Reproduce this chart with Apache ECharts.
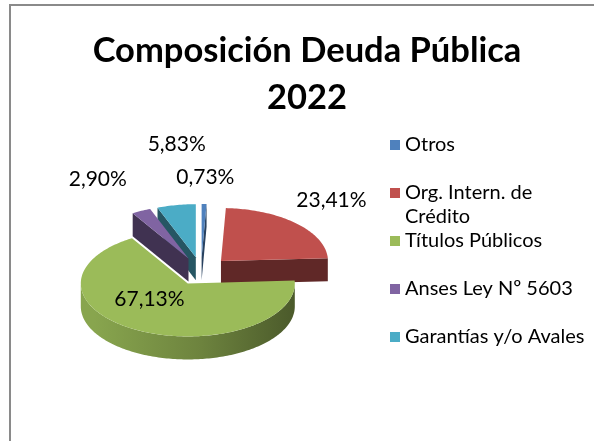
<!DOCTYPE html>
<html>
<head>
<meta charset="utf-8">
<script src="https://cdn.jsdelivr.net/npm/echarts@6/dist/echarts.min.js"></script>
<style>
html, body { margin: 0; padding: 0; background: #fff; }
#main { width: 594px; height: 441px; }
</style>
</head>
<body>
<div id="main"></div>
<script>
var categories = ['Otros', 'Org. Intern. de Crédito', 'Títulos Públicos', 'Anses Ley Nº 5603', 'Garantías y/o Avales'];
var shares = [0.73, 23.41, 67.13, 2.90, 5.83];
var colors = ['#4F81BD', '#C0504D', '#9BBB59', '#8064A2', '#4BACC6'];

// where each percentage sits: [radius factor, angle shift in degrees]
var labelPlace = [[1.51, 0], [1.55, -3], [0.47, 22], [1.71, -3.5], [2.14, 5.7]];

var chart = echarts.init(document.getElementById('main'));

var total = shares.reduce(function (a, b) { return a + b; }, 0);
// pie layout (3d look, tilted)
var CX = 201, CY = 271, RX = 107, RY = 53, DEPTH = 23, EXPLODE = 0.265;

function shade(col, k) {
    var c = echarts.color.parse(col);
    return 'rgb(' + Math.round(c[0] * k) + ',' + Math.round(c[1] * k) + ',' + Math.round(c[2] * k) + ')';
}

function fmt(v) {
    return v.toFixed(2).replace('.', ',') + '%';
}

function renderSlice(params, api) {
    var v = api.value(0), start = api.value(1);
    var idx = params.seriesIndex;
    var a0 = start / total * Math.PI * 2;
    var a1 = (start + v) / total * Math.PI * 2;
    var mid = (a0 + a1) / 2;
    var ox = CX + EXPLODE * RX * Math.sin(mid);
    var oy = CY - EXPLODE * RY * Math.cos(mid);

    function rim(t, dy) {
        return [ox + RX * Math.sin(t), oy - RY * Math.cos(t) + (dy || 0)];
    }
    function arc(t0, t1, dy) {
        var pts = [];
        var n = Math.max(2, Math.ceil((t1 - t0) / 0.02));
        for (var i = 0; i <= n; i++) {
            pts.push(rim(t0 + (t1 - t0) * i / n, dy));
        }
        return pts;
    }

    var base = api.visual('color');
    var z = Math.round((1 - Math.cos(mid)) * 20) * 10;
    var children = [];

    if (Math.sin(a0) < -1e-6) {
        children.push({
            type: 'polygon', z2: z,
            shape: { points: [[ox, oy], rim(a0), rim(a0, DEPTH), [ox, oy + DEPTH]] },
            style: { fill: shade(base, 0.5) }
        });
    }
    if (Math.sin(a1) > 1e-6) {
        children.push({
            type: 'polygon', z2: z,
            shape: { points: [[ox, oy], rim(a1), rim(a1, DEPTH), [ox, oy + DEPTH]] },
            style: { fill: shade(base, 0.5) }
        });
    }
    var w0 = Math.max(a0, Math.PI / 2), w1 = Math.min(a1, Math.PI * 1.5);
    if (w1 > w0) {
        var top = arc(w0, w1, 0), bot = arc(w0, w1, DEPTH).reverse();
        children.push({
            type: 'polygon', z2: z + 1,
            shape: { points: top.concat(bot) },
            style: {
                fill: new echarts.graphic.LinearGradient(CX - RX, 0, CX + RX, 0, [
                    { offset: 0, color: shade(base, 0.88) },
                    { offset: 0.5, color: shade(base, 0.7) },
                    { offset: 1, color: shade(base, 0.45) }
                ], true)
            }
        });
    }
    children.push({
        type: 'polygon', z2: z + 2,
        shape: { points: [[ox, oy]].concat(arc(a0, a1, 0)) },
        style: { fill: base }
    });

    var lp = labelPlace[idx];
    var la = mid + lp[1] * Math.PI / 180;
    children.push({
        type: 'text', z2: 1000,
        x: ox + lp[0] * RX * Math.sin(la),
        y: oy - lp[0] * RY * Math.cos(la),
        style: {
            text: fmt(v),
            fill: '#000',
            font: '21px Lato',
            align: 'center',
            verticalAlign: 'middle'
        }
    });

    return { type: 'group', children: children };
}

var series = [];
var cum = 0;
for (var i = 0; i < categories.length; i++) {
    series.push({
        type: 'custom',
        name: categories[i],
        coordinateSystem: 'none',
        renderItem: renderSlice,
        data: [[shares[i], cum]]
    });
    cum += shares[i];
}

function legendText(name) {
    var l1 = name, l2 = ' ';
    if (name.length > 20) {
        var cut = name.lastIndexOf(' ', 16);
        l1 = name.slice(0, cut);
        l2 = name.slice(cut + 1);
    }
    return '{t| }\n{t|' + l1 + '}\n{t|' + l2 + '}';
}

var option = {
    backgroundColor: '#fff',
    color: colors,
    animation: false,
    title: {
        text: 'Composición Deuda Pública\n2022',
        left: 307,
        top: 27,
        padding: 0,
        textAlign: 'center',
        textStyle: {
            fontFamily: 'Lato',
            fontWeight: 'bold',
            fontSize: 34.5,
            lineHeight: 47,
            color: '#000'
        }
    },
    legend: {
        orient: 'vertical',
        left: 390,
        top: 109,
        padding: 0,
        itemWidth: 10,
        itemHeight: 10,
        itemGap: -24,
        icon: 'rect',
        selectedMode: false,
        formatter: legendText,
        textStyle: {
            color: '#000',
            fontFamily: 'Lato',
            fontSize: 20,
            lineHeight: 24,
            rich: {
                t: { lineHeight: 24, fontSize: 20, fontFamily: 'Lato', color: '#000' }
            }
        }
    },
    graphic: [
        { type: 'line', shape: { x1: 9, y1: 5, x2: 594, y2: 5 }, style: { stroke: '#8a8a8a', lineWidth: 2 } },
        { type: 'line', shape: { x1: 10, y1: 4, x2: 10, y2: 441 }, style: { stroke: '#8a8a8a', lineWidth: 2 } }
    ],
    series: series
};

chart.setOption(option);
</script>
</body>
</html>
